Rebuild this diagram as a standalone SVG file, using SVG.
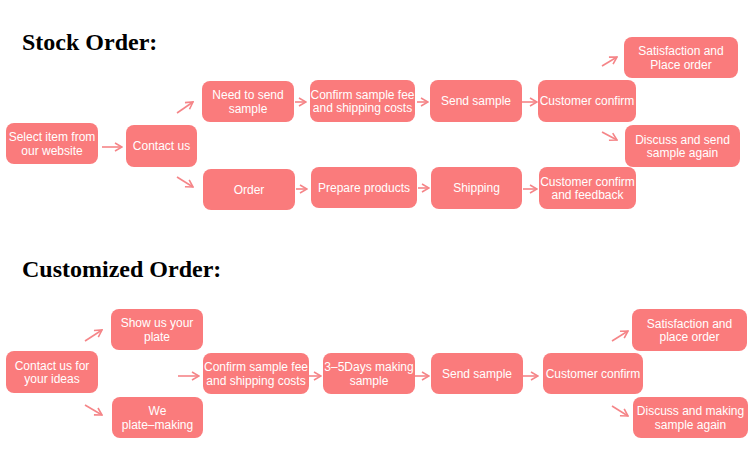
<svg xmlns="http://www.w3.org/2000/svg" width="750" height="456" viewBox="0 0 750 456">
<style>
.title{font-family:"Liberation Serif","Times New Roman",serif;font-weight:bold;font-size:24px;fill:#000}
.box{fill:#FA7B7C}
.t{font-family:"Liberation Sans",Arial,Helvetica,sans-serif;font-size:12px;fill:#fff;text-anchor:middle}
.arr{stroke:#F58588;stroke-width:1.6;fill:none;marker-end:url(#ah)}
</style>
<defs>
<marker id="ah" viewBox="0 0 10 10" refX="9" refY="5" markerWidth="10" markerHeight="10" markerUnits="userSpaceOnUse" orient="auto">
<path d="M2,1 L9,5 L2,9" fill="none" stroke="#F58588" stroke-width="1.6"/>
</marker>
</defs>
<rect width="750" height="456" fill="#fff"/>
<text class="title" x="22" y="50">Stock Order:</text>
<text class="title" x="22" y="277">Customized Order:</text>

<g id="s1"><rect class="box" x="6" y="123" width="92" height="41" rx="8"/><text class="t" x="52" y="141">Select item from</text><text class="t" x="52" y="154.5">our website</text></g>
<g id="s2"><rect class="box" x="126" y="125" width="71" height="42" rx="8"/><text class="t" x="161.5" y="150.3">Contact us</text></g>
<g id="s3"><rect class="box" x="202" y="81" width="92" height="41" rx="8"/><text class="t" x="248" y="99">Need to send</text><text class="t" x="248" y="112.5">sample</text></g>
<g id="s4"><rect class="box" x="310" y="80" width="105" height="42" rx="8"/><text class="t" x="362.5" y="98.5">Confirm sample fee</text><text class="t" x="362.5" y="112">and shipping costs</text></g>
<g id="s5"><rect class="box" x="430" y="80" width="92" height="42" rx="8"/><text class="t" x="476" y="105.3">Send sample</text></g>
<g id="s6"><rect class="box" x="538" y="80" width="98" height="42" rx="8"/><text class="t" x="587" y="105.3">Customer confirm</text></g>
<g id="s7"><rect class="box" x="624" y="37" width="114" height="41" rx="8"/><text class="t" x="681" y="55">Satisfaction and</text><text class="t" x="681" y="68.5">Place order</text></g>
<g id="s8"><rect class="box" x="625" y="125" width="115" height="42" rx="8"/><text class="t" x="682.5" y="143.5">Discuss and send</text><text class="t" x="682.5" y="157">sample again</text></g>
<g id="s9"><rect class="box" x="203" y="169" width="92" height="41" rx="8"/><text class="t" x="249" y="193.8">Order</text></g>
<g id="s10"><rect class="box" x="311" y="167" width="106" height="41" rx="8"/><text class="t" x="364" y="191.8">Prepare products</text></g>
<g id="s11"><rect class="box" x="431" y="167" width="91" height="42" rx="8"/><text class="t" x="476.5" y="192.3">Shipping</text></g>
<g id="s12"><rect class="box" x="539" y="167" width="97" height="42" rx="8"/><text class="t" x="587.5" y="185.5">Customer confirm</text><text class="t" x="587.5" y="199">and feedback</text></g>

<g id="c1"><rect class="box" x="6" y="351" width="92" height="42" rx="8"/><text class="t" x="52" y="369.5">Contact us for</text><text class="t" x="52" y="383">your ideas</text></g>
<g id="c2"><rect class="box" x="111" y="309" width="92" height="41" rx="8"/><text class="t" x="157" y="327">Show us your</text><text class="t" x="157" y="340.5">plate</text></g>
<g id="c3"><rect class="box" x="112" y="397" width="91" height="41" rx="8"/><text class="t" x="157.5" y="415">We</text><text class="t" x="157.5" y="428.5">plate–making</text></g>
<g id="c4"><rect class="box" x="203" y="353" width="106" height="41" rx="8"/><text class="t" x="256" y="371">Confirm sample fee</text><text class="t" x="256" y="384.5">and shipping costs</text></g>
<g id="c5"><rect class="box" x="323" y="353" width="92" height="41" rx="8"/><text class="t" x="369" y="371">3–5Days making</text><text class="t" x="369" y="384.5">sample</text></g>
<g id="c6"><rect class="box" x="431" y="353" width="92" height="41" rx="8"/><text class="t" x="477" y="377.8">Send sample</text></g>
<g id="c7"><rect class="box" x="543" y="353" width="100" height="41" rx="8"/><text class="t" x="593" y="377.8">Customer confirm</text></g>
<g id="c8"><rect class="box" x="632" y="309" width="115" height="42" rx="8"/><text class="t" x="689.5" y="327.5">Satisfaction and</text><text class="t" x="689.5" y="341">place order</text></g>
<g id="c9"><rect class="box" x="633" y="397" width="115" height="41" rx="8"/><text class="t" x="690.5" y="415">Discuss and making</text><text class="t" x="690.5" y="428.5">sample again</text></g>

<g id="connectors">
<line class="arr" x1="102" y1="147" x2="122" y2="147"/>
<line class="arr" x1="177" y1="113" x2="193" y2="102"/>
<line class="arr" x1="177" y1="177" x2="193" y2="187"/>
<line class="arr" x1="295" y1="102" x2="306" y2="102"/>
<line class="arr" x1="417" y1="102" x2="428" y2="102"/>
<line class="arr" x1="522" y1="102" x2="537" y2="102"/>
<line class="arr" x1="602" y1="66" x2="617" y2="57"/>
<line class="arr" x1="602" y1="132" x2="617" y2="140"/>
<line class="arr" x1="296" y1="189" x2="307" y2="189"/>
<line class="arr" x1="418" y1="188" x2="429" y2="188"/>
<line class="arr" x1="523" y1="189" x2="537" y2="189"/>

<line class="arr" x1="85" y1="341" x2="102" y2="330"/>
<line class="arr" x1="85" y1="405" x2="102" y2="415"/>
<line class="arr" x1="178" y1="376" x2="199" y2="376"/>
<line class="arr" x1="309" y1="376" x2="321" y2="376"/>
<line class="arr" x1="415" y1="376" x2="429" y2="376"/>
<line class="arr" x1="523" y1="376" x2="538" y2="376"/>
<line class="arr" x1="612" y1="341" x2="628" y2="331"/>
<line class="arr" x1="612" y1="406" x2="628" y2="416"/>
</g>
</svg>
